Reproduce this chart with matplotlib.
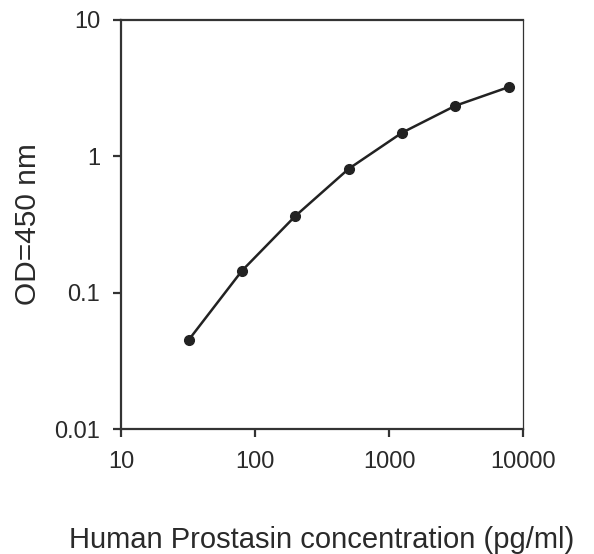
import matplotlib
matplotlib.use('Agg')
import matplotlib.pyplot as plt
from matplotlib.ticker import FixedLocator, FixedFormatter, NullLocator

plt.rcParams['font.family'] = ['Liberation Sans', 'DejaVu Sans']

# Standard curve (2.5-fold dilutions)
conc = [32, 80, 200, 500, 1250, 3125, 7812.5]
od = [0.045, 0.145, 0.365, 0.81, 1.49, 2.35, 3.22]

x_ticks = [10, 100, 1000, 10000]
x_labels = ['10', '100', '1000', '10000']
y_ticks = [0.01, 0.1, 1, 10]
y_labels = ['0.01', '0.1', '1', '10']

fig = plt.figure(figsize=(5.94, 5.54), dpi=100)
ax = fig.add_axes([0.2037, 0.2256, 0.6768, 0.7383])

ax.plot(conc, od, color='#222222', lw=1.8, marker='o', markersize=7,
        markerfacecolor='#222222', markeredgecolor='#222222')

ax.set_xscale('log')
ax.set_yscale('log')
ax.set_xlim(10, 10000)
ax.set_ylim(0.01, 10)

ax.xaxis.set_major_locator(FixedLocator(x_ticks))
ax.xaxis.set_major_formatter(FixedFormatter(x_labels))
ax.yaxis.set_major_locator(FixedLocator(y_ticks))
ax.yaxis.set_major_formatter(FixedFormatter(y_labels))
ax.xaxis.set_minor_locator(NullLocator())
ax.yaxis.set_minor_locator(NullLocator())

for s in ['left', 'bottom', 'top']:
    ax.spines[s].set_linewidth(1.6)
    ax.spines[s].set_color('#333333')
ax.spines['right'].set_linewidth(0.9)
ax.spines['right'].set_color('#333333')

ax.tick_params(axis='both', direction='out', length=6, width=1.6,
               colors='#333333', labelsize=17, labelcolor='#2a2a2a')
ax.tick_params(axis='x', pad=10)
ax.tick_params(axis='y', pad=9)

ax.set_xlabel('Human Prostasin concentration (pg/ml)', fontsize=21,
              color='#2a2a2a', labelpad=38)
ax.set_ylabel('OD=450 nm', fontsize=21.5, color='#2a2a2a', labelpad=9)

fig.savefig('out.png', dpi=100)
